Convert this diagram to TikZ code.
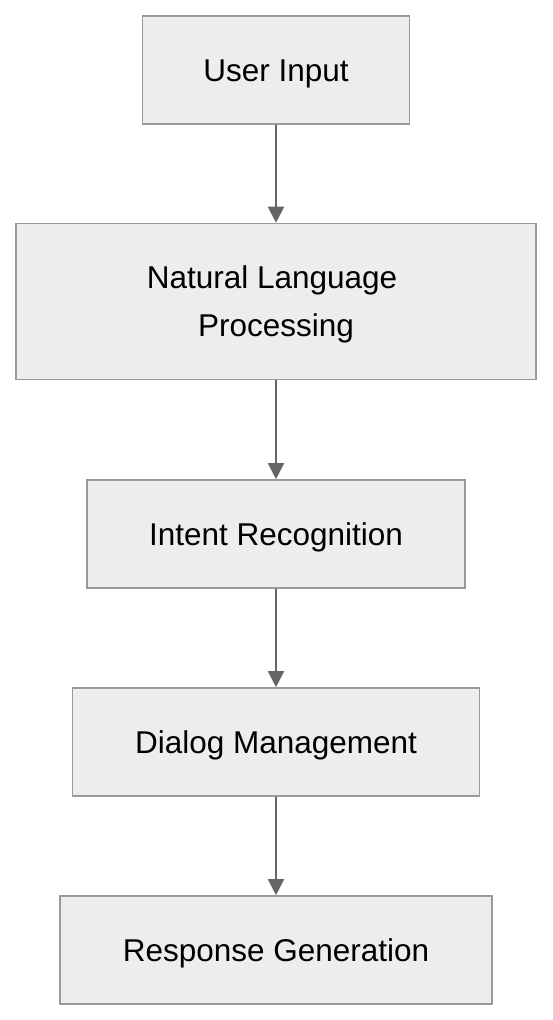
\documentclass[tikz,border=0pt]{standalone}
\usepackage{fontspec}
\setmainfont{Liberation Sans}
\usetikzlibrary{arrows.meta}
\definecolor{boxfill}{HTML}{EDEDED}
\definecolor{boxline}{HTML}{999999}
\definecolor{arrowcol}{HTML}{666666}
\tikzset{
  stepbox/.style={draw=boxline, fill=boxfill, line width=1.6pt, inner sep=0pt,
    align=center, font=\fontsize{31.5}{48}\selectfont, text=black,
    text height=22.5pt, text depth=0pt},
  flow/.style={draw=arrowcol, line width=2pt, -{Triangle[length=16pt,width=16pt]}}
}
\begin{document}
\begin{tikzpicture}[x=1pt,y=-1pt]
\useasboundingbox[fill=white] (0,0) rectangle (552,1020);
\node[stepbox, minimum width=267pt, minimum height=108pt] (a) at (276,70) {User Input};
\node[stepbox, minimum width=520pt, minimum height=156pt, text height=70.5pt] (b) at (276,301.5) {Natural Language\hspace*{8pt}\\Processing};
\node[stepbox, minimum width=378pt, minimum height=108pt] (c) at (276,534) {Intent Recognition};
\node[stepbox, minimum width=407pt, minimum height=108pt] (d) at (276,742) {Dialog Management};
\node[stepbox, minimum width=432pt, minimum height=108pt] (e) at (276,950) {Response Generation};
\draw[flow] (a.south) -- (b.north);
\draw[flow] (b.south) -- (c.north);
\draw[flow] (c.south) -- (d.north);
\draw[flow] (d.south) -- (e.north);
\end{tikzpicture}
\end{document}
